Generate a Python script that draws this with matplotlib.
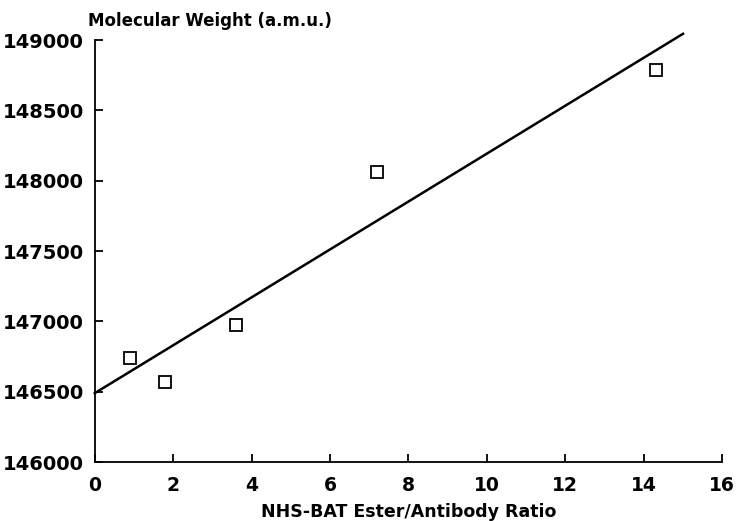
import numpy as np
import matplotlib
matplotlib.use("Agg")
import matplotlib.pyplot as plt

# dados
razao = [0.9, 1.8, 3.6, 7.2, 14.3]
peso_molecular = [146740, 146570, 146975, 148060, 148790]

# reta ajustada (extremos)
reta_x = [0, 15]
reta_y = [146490, 149045]

xticks = [0, 2, 4, 6, 8, 10, 12, 14, 16]
yticks = [146000, 146500, 147000, 147500, 148000, 148500, 149000]

plt.rcParams['font.family'] = ['DejaVu Sans']
plt.rcParams['font.weight'] = 'bold'

fig = plt.figure(figsize=(7.4, 5.21), dpi=100)
ax = fig.add_axes([0.128, 0.113, 0.848, 0.81])

ax.plot(reta_x, reta_y, color='black', lw=1.8, clip_on=False)
ax.plot(razao, peso_molecular, 's', ms=9, mfc='white', mec='black', mew=1.3)

ax.set_xlim(0, 16)
ax.set_ylim(146000, 149000)
ax.set_xticks(xticks)
ax.set_yticks(yticks)
ax.spines['top'].set_visible(False)
ax.spines['right'].set_visible(False)
ax.spines['left'].set_linewidth(1.3)
ax.spines['bottom'].set_linewidth(1.3)
ax.tick_params(direction='in', length=6, width=1.3, labelsize=14)
ax.tick_params(axis='x', pad=10, labelsize=13.5)
ax.tick_params(axis='y', pad=8)

ax.set_xlabel('NHS-BAT Ester/Antibody Ratio', fontsize=12.5, fontweight='bold', labelpad=6)
fig.text(0.119, 0.943, 'Molecular Weight (a.m.u.)', fontsize=12, fontweight='bold', ha='left', va='bottom')

fig.savefig('out.png', dpi=100)
